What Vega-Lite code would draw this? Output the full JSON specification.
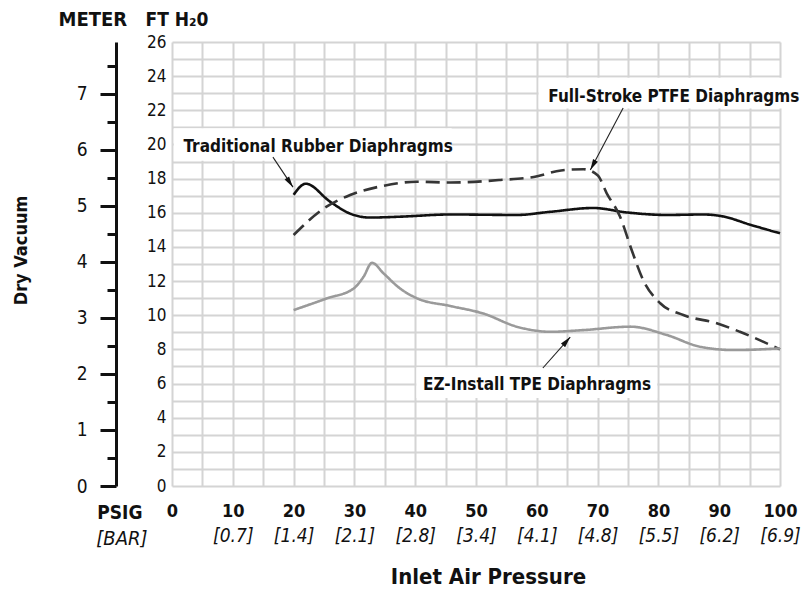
{
  "$schema": "https://vega.github.io/schema/vega-lite/v6.json",
  "width": 608,
  "height": 444,
  "autosize": {"type": "none"},
  "padding": {"left": 172, "top": 42, "right": 28, "bottom": 105},
  "background": "white",
  "config": {
    "view": {"stroke": null},
    "font": "DejaVu Sans Condensed, DejaVu Sans, sans-serif",
    "axis": {
      "labelFont": "DejaVu Sans Condensed, DejaVu Sans, sans-serif",
      "titleFont": "DejaVu Sans Condensed, DejaVu Sans, sans-serif",
      "labelColor": "#111111",
      "titleColor": "#111111"
    }
  },
  "datasets": {
    "curves": [
      {"series": "Traditional Rubber", "x": 20, "y": 17.05},
      {"series": "Traditional Rubber", "x": 22, "y": 17.7},
      {"series": "Traditional Rubber", "x": 26, "y": 16.65},
      {"series": "Traditional Rubber", "x": 29.3, "y": 15.95},
      {"series": "Traditional Rubber", "x": 32.5, "y": 15.72},
      {"series": "Traditional Rubber", "x": 37.5, "y": 15.77},
      {"series": "Traditional Rubber", "x": 45.8, "y": 15.9},
      {"series": "Traditional Rubber", "x": 56.7, "y": 15.87},
      {"series": "Traditional Rubber", "x": 62.3, "y": 16.06},
      {"series": "Traditional Rubber", "x": 69.3, "y": 16.28},
      {"series": "Traditional Rubber", "x": 74.8, "y": 16.02},
      {"series": "Traditional Rubber", "x": 81.4, "y": 15.87},
      {"series": "Traditional Rubber", "x": 87.4, "y": 15.9},
      {"series": "Traditional Rubber", "x": 90.7, "y": 15.78},
      {"series": "Traditional Rubber", "x": 95.1, "y": 15.3},
      {"series": "Traditional Rubber", "x": 100, "y": 14.8},
      {"series": "Full-Stroke PTFE", "x": 20, "y": 14.7},
      {"series": "Full-Stroke PTFE", "x": 25, "y": 16.26},
      {"series": "Full-Stroke PTFE", "x": 29.3, "y": 17.04},
      {"series": "Full-Stroke PTFE", "x": 34.8, "y": 17.58},
      {"series": "Full-Stroke PTFE", "x": 40.3, "y": 17.82},
      {"series": "Full-Stroke PTFE", "x": 45.8, "y": 17.77},
      {"series": "Full-Stroke PTFE", "x": 54, "y": 17.92},
      {"series": "Full-Stroke PTFE", "x": 59.5, "y": 18.1},
      {"series": "Full-Stroke PTFE", "x": 64, "y": 18.48},
      {"series": "Full-Stroke PTFE", "x": 67.7, "y": 18.55},
      {"series": "Full-Stroke PTFE", "x": 70, "y": 18.2},
      {"series": "Full-Stroke PTFE", "x": 71.5, "y": 17.14},
      {"series": "Full-Stroke PTFE", "x": 73.7, "y": 15.77},
      {"series": "Full-Stroke PTFE", "x": 75.6, "y": 13.82},
      {"series": "Full-Stroke PTFE", "x": 77.5, "y": 12.06},
      {"series": "Full-Stroke PTFE", "x": 80.3, "y": 10.7},
      {"series": "Full-Stroke PTFE", "x": 84.1, "y": 10.01},
      {"series": "Full-Stroke PTFE", "x": 89.6, "y": 9.53},
      {"series": "Full-Stroke PTFE", "x": 93.4, "y": 9.03},
      {"series": "Full-Stroke PTFE", "x": 100, "y": 8.0},
      {"series": "EZ-Install TPE", "x": 20, "y": 10.3},
      {"series": "EZ-Install TPE", "x": 25.5, "y": 10.99},
      {"series": "EZ-Install TPE", "x": 29.9, "y": 11.57},
      {"series": "EZ-Install TPE", "x": 31.5, "y": 12.25},
      {"series": "EZ-Install TPE", "x": 32.9, "y": 13.07},
      {"series": "EZ-Install TPE", "x": 34.8, "y": 12.45},
      {"series": "EZ-Install TPE", "x": 37.5, "y": 11.57},
      {"series": "EZ-Install TPE", "x": 40.3, "y": 10.99},
      {"series": "EZ-Install TPE", "x": 45.8, "y": 10.54},
      {"series": "EZ-Install TPE", "x": 51.2, "y": 10.1},
      {"series": "EZ-Install TPE", "x": 56.7, "y": 9.33},
      {"series": "EZ-Install TPE", "x": 62.3, "y": 9.03},
      {"series": "EZ-Install TPE", "x": 67.7, "y": 9.13},
      {"series": "EZ-Install TPE", "x": 75.4, "y": 9.33},
      {"series": "EZ-Install TPE", "x": 81.4, "y": 8.84},
      {"series": "EZ-Install TPE", "x": 86.8, "y": 8.16},
      {"series": "EZ-Install TPE", "x": 92.4, "y": 7.96},
      {"series": "EZ-Install TPE", "x": 100, "y": 8.06}
    ],
    "boxes": [
      {"x": 0.3, "x2": 46, "y": 19.05, "y2": 20.95},
      {"x": 60.3, "x2": 104, "y": 22.1, "y2": 23.9},
      {"x": 40.2, "x2": 79.8, "y": 5.15, "y2": 6.95}
    ],
    "notes": [
      {"label": "Traditional Rubber Diaphragms", "x": 1.9, "y": 19.55},
      {"label": "Full-Stroke PTFE Diaphragms", "x": 61.9, "y": 22.5},
      {"label": "EZ-Install TPE Diaphragms", "x": 41.3, "y": 5.62}
    ],
    "arrows": [
      {"name": "rubber", "x": 16.6, "y": 19.26, "x2": 19.9, "y2": 17.5},
      {"name": "ptfe", "x": 74.2, "y": 22.13, "x2": 68.8, "y2": 18.5},
      {"name": "tpe", "x": 61.0, "y": 6.91, "x2": 65.5, "y2": 8.72}
    ],
    "meter": [{"x": 0, "m": 0}]
  },
  "layer": [
    {
      "data": {"name": "curves"},
      "mark": {"type": "line", "interpolate": "monotone", "strokeWidth": 2.6},
      "encoding": {
        "x": {
          "field": "x", "type": "quantitative",
          "scale": {"domain": [0, 100], "nice": false, "zero": false},
          "axis": {
            "orient": "bottom",
            "values": [0,5,10,15,20,25,30,35,40,45,50,55,60,65,70,75,80,85,90,95,100],
            "labelExpr": "datum.value % 10 === 0 ? datum.label : ''",
            "grid": true, "gridColor": "#d4d4d4", "gridWidth": 2,
            "ticks": false, "tickSize": 0, "domain": false,
            "labelFontSize": 18, "labelFontWeight": "bold", "labelPadding": 16,
            "labelFlush": false, "labelOverlap": false,
            "title": "PSIG", "titleFontSize": 19, "titleFontWeight": "bold",
            "titleAlign": "right", "titleBaseline": "alphabetic",
            "titleX": -30, "titleY": 32, "titleAngle": 0
          }
        },
        "y": {
          "field": "y", "type": "quantitative",
          "scale": {"domain": [0, 26], "nice": false},
          "axis": {
            "orient": "left",
            "values": [0,1,2,3,4,5,6,7,8,9,10,11,12,13,14,15,16,17,18,19,20,21,22,23,24,25,26],
            "labelExpr": "datum.value % 2 === 0 ? datum.label : ''",
            "grid": true, "gridColor": "#d4d4d4", "gridWidth": 2,
            "ticks": false, "tickSize": 0, "domain": false,
            "labelFontSize": 17, "labelPadding": 6, "labelOverlap": false, "labelFlush": false,
            "title": "FT H₂0", "titleFontSize": 19, "titleFontWeight": "bold",
            "titleAngle": 0, "titleAlign": "left", "titleBaseline": "alphabetic",
            "titleX": -27, "titleY": -17
          }
        },
        "color": {
          "field": "series", "type": "nominal",
          "scale": {"domain": ["Traditional Rubber", "Full-Stroke PTFE", "EZ-Install TPE"], "range": ["#111111", "#353535", "#9a9a9a"]},
          "legend": null
        },
        "strokeDash": {
          "field": "series", "type": "nominal",
          "scale": {"domain": ["Traditional Rubber", "Full-Stroke PTFE", "EZ-Install TPE"], "range": [[1, 0], [14, 7], [1, 0]]},
          "legend": null
        }
      }
    },
    {
      "data": {"name": "boxes"},
      "mark": {"type": "rect", "fill": "white"},
      "encoding": {
        "x": {"field": "x", "type": "quantitative", "scale": {"domain": [0, 100], "nice": false, "zero": false}, "axis": null},
        "x2": {"field": "x2"},
        "y": {"field": "y", "type": "quantitative", "scale": {"domain": [0, 26], "nice": false}, "axis": null},
        "y2": {"field": "y2"}
      }
    },
    {
      "data": {"name": "notes"},
      "mark": {"type": "text", "align": "left", "baseline": "alphabetic", "fontSize": 17, "fontWeight": "bold", "color": "#111111"},
      "encoding": {
        "x": {"field": "x", "type": "quantitative", "scale": {"domain": [0, 100], "nice": false, "zero": false}, "axis": null},
        "y": {"field": "y", "type": "quantitative", "scale": {"domain": [0, 26], "nice": false}, "axis": null},
        "text": {"field": "label"}
      }
    },
    {
      "data": {"name": "arrows"},
      "mark": {"type": "rule", "strokeWidth": 1.1, "color": "#222222"},
      "encoding": {
        "x": {"field": "x", "type": "quantitative", "scale": {"domain": [0, 100], "nice": false, "zero": false}, "axis": null},
        "y": {"field": "y", "type": "quantitative", "scale": {"domain": [0, 26], "nice": false}, "axis": null},
        "x2": {"field": "x2"},
        "y2": {"field": "y2"}
      }
    },
    {
      "data": {"name": "arrows"},
      "transform": [{"filter": "datum.name === 'rubber'"}],
      "mark": {"type": "point", "shape": "M0,0L-0.55,2.2L0.55,2.2Z", "size": 100, "filled": true, "color": "#111111", "opacity": 1, "angle": 146},
      "encoding": {
        "x": {"field": "x2", "type": "quantitative", "scale": {"domain": [0, 100], "nice": false, "zero": false}, "axis": null},
        "y": {"field": "y2", "type": "quantitative", "scale": {"domain": [0, 26], "nice": false}, "axis": null}
      }
    },
    {
      "data": {"name": "arrows"},
      "transform": [{"filter": "datum.name === 'ptfe'"}],
      "mark": {"type": "point", "shape": "M0,0L-0.55,2.2L0.55,2.2Z", "size": 100, "filled": true, "color": "#111111", "opacity": 1, "angle": 208},
      "encoding": {
        "x": {"field": "x2", "type": "quantitative", "scale": {"domain": [0, 100], "nice": false, "zero": false}, "axis": null},
        "y": {"field": "y2", "type": "quantitative", "scale": {"domain": [0, 26], "nice": false}, "axis": null}
      }
    },
    {
      "data": {"name": "arrows"},
      "transform": [{"filter": "datum.name === 'tpe'"}],
      "mark": {"type": "point", "shape": "M0,0L-0.55,2.2L0.55,2.2Z", "size": 100, "filled": true, "color": "#111111", "opacity": 1, "angle": 41},
      "encoding": {
        "x": {"field": "x2", "type": "quantitative", "scale": {"domain": [0, 100], "nice": false, "zero": false}, "axis": null},
        "y": {"field": "y2", "type": "quantitative", "scale": {"domain": [0, 26], "nice": false}, "axis": null}
      }
    },
    {
      "data": {"name": "meter"},
      "mark": {"type": "point", "opacity": 0},
      "encoding": {
        "x": {
          "field": "x", "type": "quantitative",
          "scale": {"domain": [0, 100], "nice": false, "zero": false},
          "axis": {
            "orient": "bottom",
            "values": [10,20,30,40,50,60,70,80,90,100],
            "labelExpr": "'[' + format(datum.value * 0.0689476, '.1f') + ']'",
            "grid": false, "ticks": false, "tickSize": 0, "domain": false,
            "labelFontSize": 19, "labelFontStyle": "italic", "labelPadding": 40,
            "labelFlush": false, "labelOverlap": false,
            "title": "[BAR]", "titleFontSize": 20, "titleFontStyle": "italic", "titleFontWeight": "normal",
            "titleAlign": "right", "titleBaseline": "alphabetic",
            "titleX": -25, "titleY": 58, "titleAngle": 0
          }
        },
        "y": {
          "field": "m", "type": "quantitative",
          "scale": {"domain": [0, 7.9248], "nice": false},
          "axis": {
            "orient": "left", "offset": 56,
            "values": [0,1,2,3,4,5,6,7],
            "grid": false, "ticks": true, "tickSize": 16, "tickWidth": 3, "tickColor": "#111111",
            "domain": true, "domainWidth": 3, "domainColor": "#111111",
            "labelFontSize": 19, "labelPadding": 13, "labelFlush": false, "labelOverlap": false,
            "title": "METER", "titleFontSize": 20, "titleFontWeight": "bold",
            "titleAngle": 0, "titleAlign": "left", "titleBaseline": "alphabetic",
            "titleX": -58, "titleY": -17
          }
        }
      }
    },
    {
      "data": {"name": "meter"},
      "mark": {"type": "point", "opacity": 0},
      "encoding": {
        "x": {
          "field": "x", "type": "quantitative",
          "scale": {"domain": [0, 100], "nice": false, "zero": false},
          "axis": {
            "orient": "bottom",
            "grid": false, "ticks": false, "labels": false, "domain": false,
            "title": "Inlet Air Pressure", "titleFontSize": 22, "titleFontWeight": "bold",
            "titleAlign": "center", "titleBaseline": "alphabetic",
            "titleX": 316, "titleY": 97, "titleAngle": 0
          }
        },
        "y": {
          "field": "m", "type": "quantitative",
          "scale": {"domain": [0, 7.9248], "nice": false},
          "axis": {
            "orient": "left", "offset": 56,
            "values": [0.5,1.5,2.5,3.5,4.5,5.5,6.5,7.5],
            "grid": false, "ticks": true, "tickSize": 9, "tickWidth": 3, "tickColor": "#111111",
            "domain": false, "labels": false,
            "title": "Dry Vacuum", "titleFontSize": 18, "titleFontWeight": "bold",
            "titleAngle": -90, "titleAlign": "center", "titleBaseline": "middle",
            "titleX": -95, "titleY": 208
          }
        }
      }
    }
  ],
  "resolve": {"scale": {"y": "independent"}, "axis": {"x": "independent", "y": "independent"}}
}
